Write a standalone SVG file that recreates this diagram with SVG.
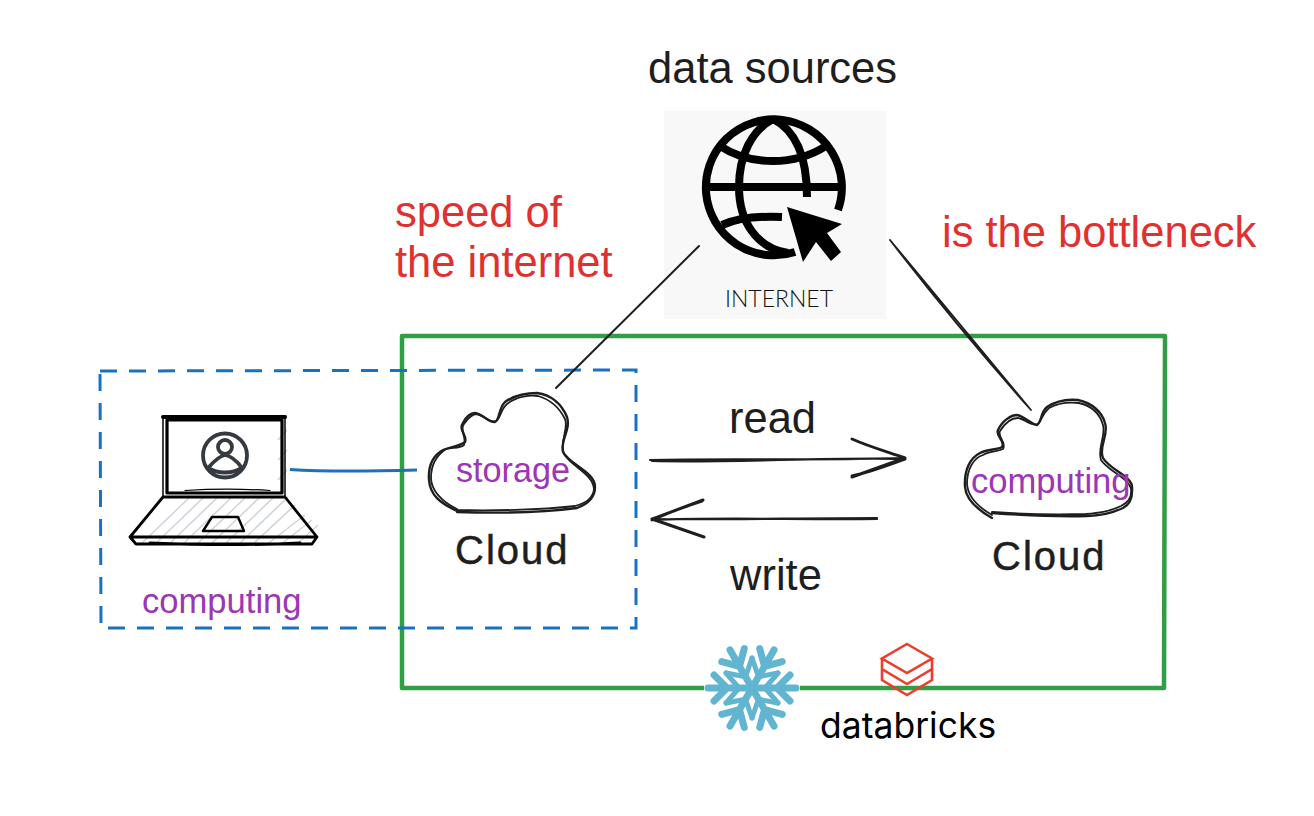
<svg xmlns="http://www.w3.org/2000/svg" width="1314" height="816" viewBox="0 0 1314 816">
<style>
.t{font-family:"Liberation Sans",Arial,sans-serif}
.lbl{font-size:43.5px;fill:#1e1e1e}
.red{font-size:43.5px;fill:#e03131}
.pur{font-size:34.6px;fill:#9c36b5}
.hand{font-family:"Liberation Sans",Arial,sans-serif;font-size:40px;fill:#1e1e1e;letter-spacing:2px;stroke:#1e1e1e;stroke-width:.5px}
.ink{fill:none;stroke:#1e1e1e;stroke-linecap:round;stroke-linejoin:round}
.blk{fill:none;stroke:#000;stroke-linecap:round;stroke-linejoin:round}
.hatch{stroke:#ced4da;stroke-width:1.5;fill:none}
.flake{fill:none;stroke:#62b5d0;stroke-linecap:round;stroke-linejoin:miter}
.brick{fill:none;stroke:#ee3d2c;stroke-width:2.6;stroke-linejoin:miter}
</style>
<defs>
<g id="arm">
<path class="flake" stroke-width="7" d="M0 0H44M25 0L38 -13M25 0L38 13"/>
<path class="flake" stroke-width="5" d="M13 0L26 15M13 0L26 -15"/>
</g>
</defs>
<rect width="1314" height="816" fill="#fff"/>

<g id="green-frame"><path d="M402 336 L1165 336 L1164 688 L402 688 Z" fill="none" stroke="#2f9e44" stroke-width="4.5" stroke-linejoin="round"/></g>
<g id="blue-frame"><path d="M100 371 L636 370 L636 628 L101 628 Z" fill="none" stroke="#1971c2" stroke-width="3" stroke-dasharray="17 12"/></g>

<g id="internet">
<rect x="664" y="111" width="222" height="208" fill="#f8f8f8"/>
<g fill="none" stroke="#000" stroke-width="8">
<path d="M838 210A68 68 0 1 0 795 252"/>
<path d="M773 119C752 130 739 155 739 187C739 222 757 248 788 253"/>
<path d="M773 119C795 130 807 155 807 197"/>
<path d="M705 187H841"/>
<path d="M720 146C750 166 795 166 826 146"/>
<path d="M722 225C740 217 760 216 782 217"/>
</g>
<path d="M787 207L842 224L827 233L841 252L831 261L816 242L803 262Z" fill="#000" stroke="#f8f8f8" stroke-width="5" paint-order="stroke" stroke-linejoin="miter"/>
<text x="725" y="307" style="font-family:Lato,sans-serif;font-weight:300;font-size:23px;fill:#111">INTERNET</text>
</g>

<g id="connectors">
<path class="ink" stroke-width="2" d="M699 246L556 388"/>
<path class="ink" stroke-width="1.800" d="M890 240L1031 410M890 240C930 292 975 347 1031 410"/>
<path d="M290 469.500C330 472 380 471 417 470" fill="none" stroke="#1971c2" stroke-width="2.800"/>
<path class="ink" stroke-width="2.200" d="M650 460C730 458 830 461 905 458M652 461C730 463 830 457 905 459"/>
<path class="ink" stroke-width="3" d="M852 439C870 447 888 452 905 458L852 477M905 459C888 465 870 472 852 476"/>
<path class="ink" stroke-width="2.200" d="M877 518C800 518 720 520 652 519M877 519C800 520 720 517 652 520"/>
<path class="ink" stroke-width="3" d="M703 500C685 507 668 513 652 519L704 537M652 520C670 512 686 506 702 501"/>
</g>

<g id="laptop">
<path d="M163 497L285 497L317 537L130 537Z" fill="#fff"/>
<path class="hatch" d="M140 545L190 497M154 545L204 497M168 545L218 497M182 545L232 497M196 545L246 497M210 545L260 497M224 545L274 497M238 545L288 497M252 545L295 505M266 545L305 515M280 545L312 520M296 545L318 525M278 480L287 470M278 460L287 450M278 440L287 430M280 422L287 415"/>
<path class="blk" stroke-width="1.500" d="M163 416H285V497H163Z"/>
<path class="blk" stroke-width="4" d="M163 417H285"/>
<path class="blk" stroke-width="3.200" d="M167 420H282V493H167Z"/>
<path class="blk" stroke-width="1.200" d="M185 490.500C210 489 245 489 270 490.500"/>
<path class="blk" stroke-width="2.800" d="M163 497H285L317 537H130ZM130 537L136 544H312L317 537M150 543C200 545 260 545 300 543"/>
<path class="blk" stroke-width="2.400" d="M212 517H238L244 531H203Z"/>
<g fill="none" stroke="#343a40" stroke-width="3.800">
<circle cx="225" cy="455.500" r="22"/>
<circle cx="225" cy="447" r="7"/>
<path d="M208 468C214 461 220 456 225 455C231 456 237 461 242 468C232 474 218 474 208 468Z"/>
</g>
<text class="t pur" x="142" y="612.500">computing</text>
</g>

<g id="cloud-storage">
<path class="ink" stroke-width="2.400" d="M457 511C440 503 430 495 429 480C428 465 434 455 443 450C450 447 458 447 465 442C468 436 458 430 463 423C466 417 470 413 475 413C482 414 490 423 495 422C500 420 498 409 505 402C515 395 527 393 537 393C552 395 562 405 567 417C571 430 560 440 563 452C570 465 595 472 595 487C595 500 585 505 577 508C540 513 490 513 457 512"/>
<path class="ink" stroke-width="1.800" d="M457 509C442 502 431 490 431 478C431 465 437 455 446 449C452 447 459 449 464 445C467 437 459 430 464 424C468 418 472 414 477 414C484 415 490 424 496 421C501 418 500 410 507 404C517 396 530 395 538 396C552 400 560 409 565 419C569 430 559 441 564 454C572 467 593 474 594 489C593 499 583 504 575 506C540 510 490 511 457 510"/>
<text class="t pur" x="456" y="482" style="font-size:34.200px">storage</text>
<text class="hand" x="455" y="564">Cloud</text>
</g>

<g id="cloud-computing">
<path class="ink" stroke-width="2.400" d="M992 518C978 510 966 500 965 487C964 470 970 458 980 453C988 449 997 450 1002 447C1006 441 995 436 998 430C1002 421 1011 415 1017 415C1024 416 1032 425 1037 425C1042 422 1040 413 1047 407C1056 401 1068 399 1078 400C1092 403 1102 412 1105 423C1109 436 1098 447 1103 458C1110 470 1132 476 1132 487C1133 500 1129 505 1123 508C1110 514 1100 516 1087 516C1050 517 1020 515 992 513"/>
<path class="ink" stroke-width="1.800" d="M992 515C980 508 968 498 967 484C967 470 973 458 983 455C990 451 997 452 1003 449C1007 442 997 437 1000 431C1005 423 1012 418 1018 418C1025 419 1032 427 1038 424C1042 420 1042 414 1049 408C1058 403 1070 402 1079 403C1092 406 1100 414 1103 425C1106 437 1097 448 1101 460C1108 471 1129 478 1131 489C1132 499 1127 503 1121 506C1108 512 1098 513 1086 514C1050 515 1020 514 992 512"/>
<text class="t pur" x="971" y="492.500">computing</text>
<text class="hand" x="992" y="570">Cloud</text>
</g>

<g id="labels">
<text class="t lbl" x="648" y="83">data sources</text>
<text class="t red" x="395" y="227">speed of</text>
<text class="t red" x="395" y="277">the internet</text>
<text class="t red" x="942" y="247">is the bottleneck</text>
<text class="t lbl" x="729" y="433">read</text>
<text class="t lbl" x="730" y="590">write</text>
</g>

<g id="snowflake">
<rect x="704" y="684" width="96" height="8" fill="#fff"/>
<g transform="translate(752 688)">
<use href="#arm"/>
<use href="#arm" transform="rotate(60)"/>
<use href="#arm" transform="rotate(120)"/>
<use href="#arm" transform="rotate(180)"/>
<use href="#arm" transform="rotate(240)"/>
<use href="#arm" transform="rotate(300)"/>
</g>
</g>

<g id="databricks">
<path class="brick" d="M907 644L932 658.500L907 673L882 658.500ZM882 658.500V669L907 684L932 669V658.500M882 669V680L907 695L932 680V669"/>
<text x="820" y="738" style="font-family:Inter,sans-serif;font-weight:400;font-size:35.500px;fill:#000">databricks</text>
</g>
</svg>
